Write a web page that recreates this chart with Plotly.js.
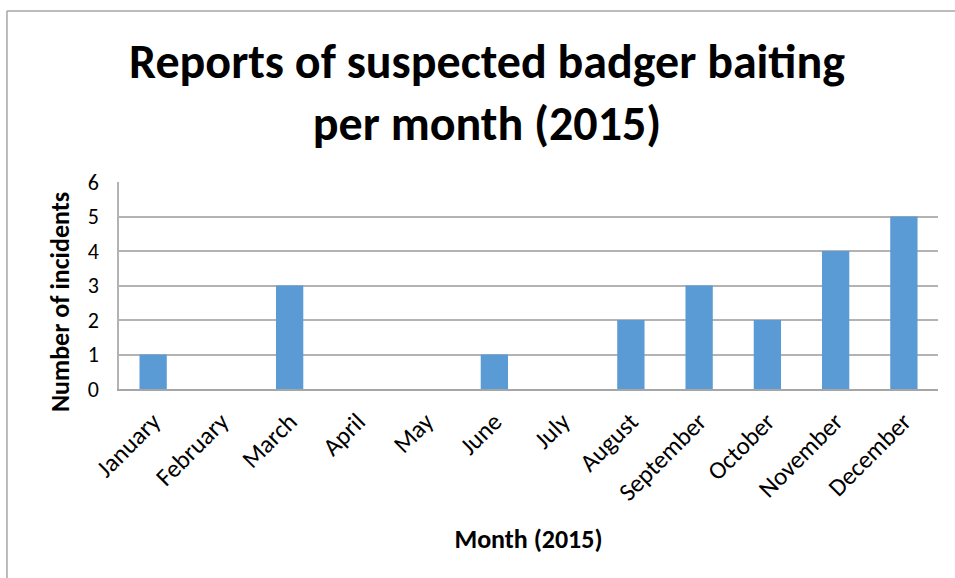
<!DOCTYPE html>
<html>
<head>
<meta charset="utf-8">
<script src="https://cdn.plot.ly/plotly-3.0.1.min.js"></script>
<style>
html,body{margin:0;padding:0;background:#fff;}
#chart{width:955px;height:578px;}
</style>
</head>
<body>
<div id="chart"></div>
<script>
var months = ["January","February","March","April","May","June","July","August","September","October","November","December"];
var incidents = [1,0,3,0,0,1,0,2,3,2,4,5];
var yTicks = [0,1,2,3,4,5,6];

var FONT = "Carlito, 'Open Sans', sans-serif";

var trace = {
  type: "bar",
  x: months,
  y: incidents,
  marker: {color: "#5B9BD5", line: {width: 0}},
  hoverinfo: "x+y"
};

var layout = {
  width: 955,
  height: 578,
  paper_bgcolor: "#ffffff",
  plot_bgcolor: "#ffffff",
  margin: {l: 119, r: 17, t: 182, b: 189, pad: 0},
  bargap: 0.6,
  showlegend: false,
  font: {family: FONT, color: "#000000"},
  title: {
    text: "<b>Reports of suspected badger baiting<br>per month (2015)</b>",
    font: {family: FONT, size: 48, color: "#000000"},
    xref: "container", x: 0.51, xanchor: "center",
    yref: "container", y: 0.865, yanchor: "middle"
  },
  xaxis: {
    type: "category",
    tickangle: -45,
    tickfont: {family: FONT, size: 25, color: "#000000"},
    showline: true, linecolor: "#a6a6a6", linewidth: 2,
    ticks: "", showgrid: false, automargin: false, ticklabelstandoff: 6,
    title: {text: "<b>Month (2015)</b>", font: {family: FONT, size: 26, color: "#000000"}, standoff: 23}
  },
  yaxis: {
    range: [0, 6],
    tickvals: yTicks,
    ticktext: yTicks.map(String),
    tickfont: {family: FONT, size: 22, color: "#000000"},
    showgrid: true, gridcolor: "#b3b3b3", gridwidth: 1.5,
    showline: true, linecolor: "#b3b3b3", linewidth: 1.5,
    zeroline: false, ticks: "", ticklabelstandoff: 14, automargin: false
  },
  annotations: [
    {text: "<b>Number of incidents</b>", xref: "paper", yref: "paper", x: -0.072, y: 0.42,
     xanchor: "center", yanchor: "middle", textangle: -90, showarrow: false,
     font: {family: FONT, size: 26, color: "#000000"}}
  ],
  shapes: [
    {type: "line", xref: "paper", yref: "paper", x0: -0.1368, x1: 1.03, y0: 1.826, y1: 1.826, line: {color: "#a6a6a6", width: 1.5}},
    {type: "line", xref: "paper", yref: "paper", x0: -0.1368, x1: -0.1368, y0: 1.826, y1: -0.92, line: {color: "#a6a6a6", width: 1.5}}
  ]
};

Plotly.newPlot("chart", [trace], layout, {displayModeBar: false, responsive: false});
</script>
</body>
</html>
